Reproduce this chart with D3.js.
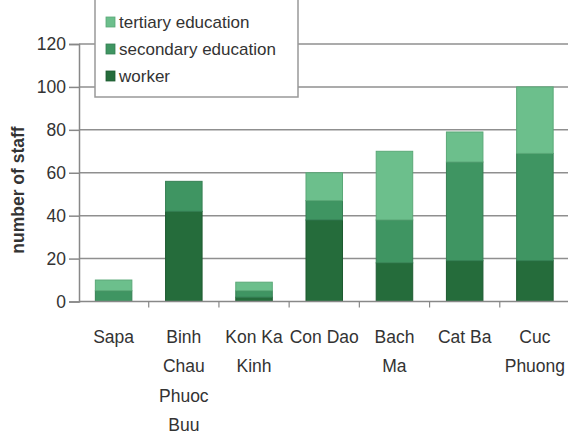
<!DOCTYPE html>
<html><head><meta charset="utf-8">
<script src="https://cdn.jsdelivr.net/npm/d3@7"></script>
<style>body{margin:0;background:#fff}svg{display:block}text{font-family:"Liberation Sans",Arial,sans-serif;fill:#333}</style>
</head><body>
<script>
const categories = [["Sapa"],["Binh","Chau","Phuoc","Buu"],["Kon Ka","Kinh"],["Con Dao"],["Bach","Ma"],["Cat Ba"],["Cuc","Phuong"]];
const catKeys = categories.map(c => c.join(" "));
const worker    = [0, 42, 2, 38, 18, 19, 19];
const secondary = [5, 14, 3, 9, 20, 46, 50];
const tertiary  = [5, 0, 4, 13, 32, 14, 31];
const seriesNames = ["worker","secondary education","tertiary education"];
const colors = ["#256c3b","#3f9562","#6cbf8c"];
const strokes = ["#1d5a30","#357f53","#5aa877"];
const yTicks = [0,20,40,60,80,100,120];

const W = 568, H = 436;
const svg = d3.select("body").append("svg").attr("width", W).attr("height", H);
const y = d3.scaleLinear().domain([0,120]).range([301.5,44]);
const x = d3.scaleBand().domain(catKeys).range([78.5,570]).paddingInner(0.48).paddingOuter(0.24);

// gridlines
svg.append("g").selectAll("line").data(yTicks.filter(d=>d>0)).join("line")
  .attr("x1",79).attr("x2",568).attr("y1",d=>y(d)).attr("y2",d=>y(d))
  .attr("stroke","#8f8f8f").attr("stroke-width",1.5);

// stacked bars
const rows = catKeys.map((k,i)=>({key:k, worker:worker[i], "secondary education":secondary[i], "tertiary education":tertiary[i]}));
const stack = d3.stack().keys(seriesNames)(rows);
svg.append("g").selectAll("g").data(stack).join("g")
  .attr("fill",(d,i)=>colors[i]).attr("stroke",(d,i)=>strokes[i])
  .selectAll("rect").data(d=>d.filter(s=>s[1]-s[0]>0)).join("rect")
  .attr("x",d=>x(d.data.key)).attr("width",x.bandwidth())
  .attr("y",d=>y(d[1])).attr("height",d=>y(d[0])-y(d[1]))
  .attr("stroke-width",1);

// y axis
const yAxis = svg.append("g").attr("transform","translate(79,0)")
  .call(d3.axisLeft(y).tickValues(yTicks).tickSize(10).tickPadding(3));
yAxis.select(".domain").attr("stroke","#888").attr("stroke-width",1.5);
yAxis.selectAll(".tick line").attr("stroke","#888").attr("stroke-width",1.5);
yAxis.selectAll("text").attr("font-size",17.5).attr("fill","#333").attr("font-family","Liberation Sans, Arial");

// x axis
const xAxis = svg.append("g").attr("transform","translate(0,301.5)");
xAxis.append("line").attr("x1",79).attr("x2",568).attr("stroke","#888").attr("stroke-width",1.5);
const bounds = catKeys.slice(1).map(k=>x(k)-x.step()*x.paddingInner()/2);
xAxis.selectAll("line.t").data(bounds).join("line").attr("class","t")
  .attr("x1",d=>d).attr("x2",d=>d).attr("y1",0).attr("y2",6).attr("stroke","#888").attr("stroke-width",1.2);
const lab = xAxis.selectAll("text.lab").data(categories).join("text").attr("class","lab")
  .attr("x",(d,i)=>x(catKeys[i])+x.bandwidth()/2).attr("y",41)
  .attr("text-anchor","middle").attr("font-size",17.5);
lab.selectAll("tspan").data(d=>d).join("tspan")
  .attr("x",function(){return this.parentNode.getAttribute("x");})
  .attr("dy",(d,i)=>i===0?0:29.5).text(d=>d);

// y title
svg.append("text").attr("transform","translate(24,190) rotate(-90)")
  .attr("text-anchor","middle").attr("font-size",17.5).attr("font-weight","bold")
  .attr("fill","#2a2a2a").text("number of staff");

// legend
const lg = svg.append("g");
lg.append("rect").attr("x",95).attr("y",-5).attr("width",203).attr("height",102)
  .attr("fill","#fff").attr("stroke","#999").attr("stroke-width",1.5);
const legendItems = ["tertiary education","secondary education","worker"];
const legendColors = [colors[2],colors[1],colors[0]];
legendItems.forEach((t,i)=>{
  const cy = 22 + i*27;
  lg.append("rect").attr("x",106).attr("y",cy-5).attr("width",9).attr("height",10)
    .attr("fill",legendColors[i]).attr("stroke",strokes[2-i]).attr("stroke-width",0.8);
  lg.append("text").attr("x",119).attr("y",cy+6).attr("font-size",17).text(t);
});
</script>
</body></html>
